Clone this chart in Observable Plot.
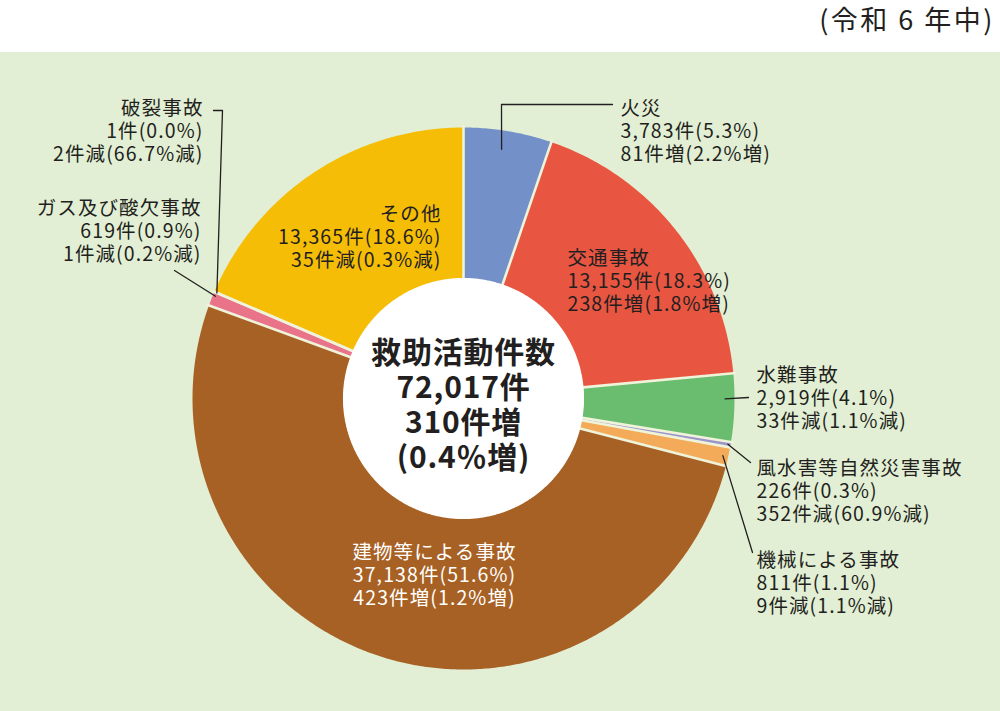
<!DOCTYPE html>
<html><head><meta charset="utf-8">
<script src="https://cdn.jsdelivr.net/npm/d3@7"></script>
<script src="https://cdn.jsdelivr.net/npm/@observablehq/plot@0.6"></script>
<style>
body{margin:0;background:#fff;font-family:'Noto Sans CJK JP',sans-serif;}
#head{height:52px;position:relative;background:#fff;}
#title{position:absolute;right:5px;top:0;font-size:27px;line-height:38px;letter-spacing:2.5px;color:#231f20;}
#chart svg{display:block;}
g.lbl text{letter-spacing:1.1px;}
g.ctr text{letter-spacing:0.8px;}
</style></head><body>
<div id="head"><span id="title">(令和 6 年中)</span></div>
<div id="chart"></div>
<script>
// ---- data ----
const categories = ["火災","交通事故","水難事故","風水害等自然災害事故","機械による事故","建物等による事故","ガス及び酸欠事故","破裂事故","その他"];
const counts     = [3783, 13155, 2919, 226, 811, 37138, 619, 1, 13365];
const shares     = ["5.3","18.3","4.1","0.3","1.1","51.6","0.9","0.0","18.6"];
const changeCnt  = [81, 238, -33, -352, -9, 423, -1, -2, -35];
const changePct  = ["2.2","1.8","1.1","60.9","1.1","1.2","0.2","66.7","0.3"];
const colors     = ["#7390c9","#e85642","#6abc6f","#9b94c9","#f3ab59","#a86124","#e97389","#e97389","#f6bd06"];
const totalLabel = "救助活動件数";
const totalCount = 72017;
const totalChange = 310;
const totalChangePct = "0.4";

// ---- layout (page pixels) ----
const CX = 463, CY = 398, R = 271, RIN = 120;   // donut centre / radii
const HEAD = 52, W = 1000, H = 659;
const toU = ([px, py]) => [(px - CX) / R, (CY - py) / R];

const labelLayout = {
  "火災":               {at:[620,130], anchor:"start", fill:"#231f20", leader:{t:0.46, r:0.93, pts:[[501,104],[612,104]]}},
  "交通事故":           {at:[567,280], anchor:"start", fill:"#231f20"},
  "水難事故":           {at:[756,397], anchor:"start", fill:"#231f20", leader:{t:0.37, r:0.965, pts:[[748,397]]}},
  "風水害等自然災害事故": {at:[756,490], anchor:"start", fill:"#231f20", leader:{t:0.5, r:0.99, pts:[[750,462]]}},
  "機械による事故":      {at:[756,582], anchor:"start", fill:"#231f20", leader:{t:0.5, r:0.98, pts:[[752,552]]}},
  "建物等による事故":    {at:[434,574], anchor:"middle", fill:"#ffffff"},
  "ガス及び酸欠事故":    {at:[201,230], anchor:"end", fill:"#231f20", leader:{t:0.75, r:0.99, pts:[[174,270]]}},
  "破裂事故":           {at:[203,130], anchor:"end", fill:"#231f20", leader:{t:0.5, r:0.99, pts:[[222,110],[213,110]]}},
  "その他":             {at:[441,236], anchor:"end", fill:"#231f20"}
};

// ---- derived geometry ----
const pie = d3.pie().sort(null).value(d => d.count)(categories.map((name, i) => ({name, count: counts[i], i})));
const rin = RIN / R;
const pol = (a, r) => ({x: r * Math.sin(a), y: r * Math.cos(a)});

const slicePts = [];
for (const s of pie) {
  const n = Math.max(2, Math.ceil((s.endAngle - s.startAngle) / (Math.PI / 360)));
  for (let k = 0; k <= n; k++) slicePts.push({name: s.data.name, ...pol(s.startAngle + (s.endAngle - s.startAngle) * k / n, 1)});
  for (let k = n; k >= 0; k--) slicePts.push({name: s.data.name, ...pol(s.startAngle + (s.endAngle - s.startAngle) * k / n, rin)});
}
const holePts = d3.range(0, 721).map(k => pol(k * Math.PI / 360, rin + 0.002));
const seps = pie.map(s => ({a: s.startAngle}));

const leaderPts = [];
for (const s of pie) {
  const L = labelLayout[s.data.name];
  if (!L.leader) continue;
  const a = s.startAngle + (s.endAngle - s.startAngle) * L.leader.t;
  leaderPts.push({name: s.data.name, ...pol(a, L.leader.r)});
  for (const p of L.leader.pts) { const [x, y] = toU(p); leaderPts.push({name: s.data.name, x, y}); }
}

const fmt = d3.format(",");
const labels = categories.map((name, i) => {
  const L = labelLayout[name];
  const [x, y] = toU(L.at);
  const c = changeCnt[i], dir = c >= 0 ? "増" : "減";
  return {name, x, y, anchor: L.anchor, fill: L.fill,
    text: `${name}\n${fmt(counts[i])}件(${shares[i]}%)\n${Math.abs(c)}件${dir}(${changePct[i]}%${dir})`};
});
const centerText = `${totalLabel}\n${fmt(totalCount)}件\n${totalChange}件増\n(${totalChangePct}％増)`;

const txt = (anchor) => Plot.text(labels.filter(d => d.anchor === anchor), {
  x: "x", y: "y", text: "text", fill: "fill", textAnchor: anchor, lineAnchor: "middle",
  lineHeight: 1.2, fontSize: 19.5, className: "lbl"
});

const chart = Plot.plot({
  width: W, height: H,
  marginLeft: CX - R, marginRight: W - (CX + R),
  marginTop: CY - HEAD - R, marginBottom: H - (CY - HEAD + R),
  x: {domain: [-1, 1], axis: null},
  y: {domain: [-1, 1], axis: null},
  color: {domain: categories, range: colors},
  style: {background: "#e2efd4", fontFamily: "'Noto Sans CJK JP', sans-serif", color: "#231f20"},
  marks: [
    Plot.line(slicePts, {x: "x", y: "y", z: "name", fill: "name", stroke: "none"}),
    Plot.link(seps, {x1: d => (rin - 0.01) * Math.sin(d.a), y1: d => (rin - 0.01) * Math.cos(d.a),
                     x2: d => 1.01 * Math.sin(d.a), y2: d => 1.01 * Math.cos(d.a),
                     stroke: "#eef3da", strokeWidth: 2.6}),
    Plot.line(holePts, {x: "x", y: "y", fill: "#ffffff", stroke: "none"}),
    Plot.line(leaderPts, {x: "x", y: "y", z: "name", stroke: "#231f20", strokeWidth: 1.3}),
    txt("start"), txt("end"), txt("middle"),
    Plot.text([centerText], {x: () => 0, y: () => toU([0, 404])[1], text: d => d, fontSize: 30, fontWeight: "bold",
      lineAnchor: "middle", lineHeight: 1.17, fill: "#231f20", className: "ctr"})
  ]
});
document.getElementById("chart").appendChild(chart);
</script>
</body></html>
